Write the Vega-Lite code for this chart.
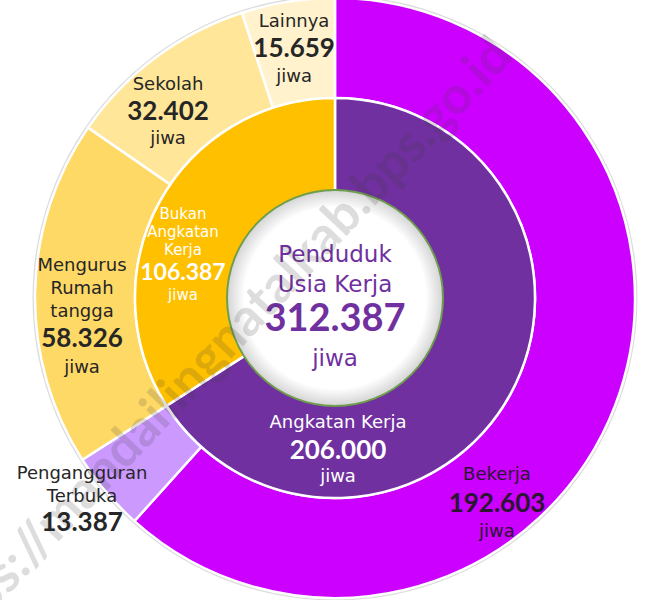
{
  "$schema": "https://vega.github.io/schema/vega-lite/v6.json",
  "width": 628,
  "height": 596,
  "autosize": {"type": "none"},
  "padding": {"left": 21, "top": 0, "right": 0, "bottom": 4},
  "background": "white",
  "config": {
    "view": {"stroke": null},
    "locale": {"number": {"decimal": ",", "thousands": ".", "grouping": [3], "currency": ["Rp", ""]}},
    "text": {"align": "center", "baseline": "middle", "lineBreak": "\n"}
  },
  "datasets": {
    "outer": [
      {"k": 1, "kategori": "Bekerja", "jiwa": 192603},
      {"k": 2, "kategori": "Pengangguran\nTerbuka", "jiwa": 13387},
      {"k": 3, "kategori": "Mengurus\nRumah\ntangga", "jiwa": 58326},
      {"k": 4, "kategori": "Sekolah", "jiwa": 32402},
      {"k": 5, "kategori": "Lainnya", "jiwa": 15659}
    ],
    "inner": [
      {"k": 1, "kategori": "Angkatan Kerja", "jiwa": 206000},
      {"k": 2, "kategori": "Bukan\nAngkatan\nKerja", "jiwa": 106387}
    ],
    "total": [
      {"k": 1, "kategori": "Penduduk\nUsia Kerja", "jiwa": 312387}
    ]
  },
  "layer": [
    {
      "data": {"name": "total"},
      "mark": {"type": "arc", "outerRadius": 302.5, "fill": "#dcdcdc"},
      "encoding": {"theta": {"field": "jiwa", "type": "quantitative", "stack": true}}
    },
    {
      "data": {"name": "outer"},
      "mark": {"type": "arc", "innerRadius": 200, "outerRadius": 300, "stroke": "white", "strokeWidth": 2.5},
      "encoding": {
        "theta": {"field": "jiwa", "type": "quantitative", "stack": true},
        "order": {"field": "k", "type": "quantitative"},
        "color": {
          "field": "kategori", "type": "nominal", "legend": null,
          "scale": {
            "domain": ["Bekerja", "Pengangguran\nTerbuka", "Mengurus\nRumah\ntangga", "Sekolah", "Lainnya", "Angkatan Kerja", "Bukan\nAngkatan\nKerja"],
            "range": ["#CC00FF", "#CC99FF", "#FFD966", "#FFE699", "#FFF2CC", "#7030A0", "#FFC000"]
          }
        }
      }
    },
    {
      "data": {"name": "inner"},
      "mark": {"type": "arc", "innerRadius": 100, "outerRadius": 200, "stroke": "white", "strokeWidth": 2.5},
      "encoding": {
        "theta": {"field": "jiwa", "type": "quantitative", "stack": true},
        "order": {"field": "k", "type": "quantitative"},
        "color": {"field": "kategori", "type": "nominal", "legend": null}
      }
    },
    {
      "data": {"name": "total"},
      "mark": {
        "type": "arc", "outerRadius": 108, "stroke": "#6e9e4c", "strokeWidth": 2,
        "fill": {"gradient": "radial", "x1": 0.5, "y1": 0.5, "x2": 0.5, "y2": 0.5, "r1": 0, "r2": 0.5,
          "stops": [{"offset": 0, "color": "#ffffff"}, {"offset": 0.84, "color": "#ffffff"}, {"offset": 1, "color": "#d4d4d4"}]}
      },
      "encoding": {"theta": {"field": "jiwa", "type": "quantitative", "stack": true}}
    },

    {"data": {"name": "outer"}, "mark": {"type": "text", "radius": 252, "dy": -27.5, "font": "DejaVu Sans", "fontSize": 18, "fill": "#262626"},
     "encoding": {"theta": {"field": "jiwa", "type": "quantitative", "stack": true, "bandPosition": 0.483}, "order": {"field": "k", "type": "quantitative"},
       "text": {"condition": {"test": "datum.k === 5", "field": "kategori", "type": "nominal"}, "value": ""}}},
    {"data": {"name": "outer"}, "mark": {"type": "text", "radius": 252, "dy": 0, "font": "Lato", "fontWeight": "bold", "fontSize": 26, "fill": "#262626"},
     "encoding": {"theta": {"field": "jiwa", "type": "quantitative", "stack": true, "bandPosition": 0.483}, "order": {"field": "k", "type": "quantitative"},
       "text": {"condition": {"test": "datum.k === 5", "field": "jiwa", "type": "quantitative", "format": ",d"}, "value": ""}}},
    {"data": {"name": "outer"}, "mark": {"type": "text", "radius": 252, "dy": 28, "font": "DejaVu Sans", "fontSize": 18, "fill": "#262626"},
     "encoding": {"theta": {"field": "jiwa", "type": "quantitative", "stack": true, "bandPosition": 0.483}, "order": {"field": "k", "type": "quantitative"},
       "text": {"condition": {"test": "datum.k === 5", "value": "jiwa"}, "value": ""}}},

    {"data": {"name": "outer"}, "mark": {"type": "text", "radius": 249.6, "dy": -27.5, "font": "DejaVu Sans", "fontSize": 18, "fill": "#262626"},
     "encoding": {"theta": {"field": "jiwa", "type": "quantitative", "stack": true, "bandPosition": 0.359}, "order": {"field": "k", "type": "quantitative"},
       "text": {"condition": {"test": "datum.k === 4", "field": "kategori", "type": "nominal"}, "value": ""}}},
    {"data": {"name": "outer"}, "mark": {"type": "text", "radius": 249.6, "dy": 0, "font": "Lato", "fontWeight": "bold", "fontSize": 26, "fill": "#262626"},
     "encoding": {"theta": {"field": "jiwa", "type": "quantitative", "stack": true, "bandPosition": 0.359}, "order": {"field": "k", "type": "quantitative"},
       "text": {"condition": {"test": "datum.k === 4", "field": "jiwa", "type": "quantitative", "format": ",d"}, "value": ""}}},
    {"data": {"name": "outer"}, "mark": {"type": "text", "radius": 249.6, "dy": 26.5, "font": "DejaVu Sans", "fontSize": 18, "fill": "#262626"},
     "encoding": {"theta": {"field": "jiwa", "type": "quantitative", "stack": true, "bandPosition": 0.359}, "order": {"field": "k", "type": "quantitative"},
       "text": {"condition": {"test": "datum.k === 4", "value": "jiwa"}, "value": ""}}},

    {"data": {"name": "outer"}, "mark": {"type": "text", "radius": 256.3, "dy": -73, "lineHeight": 23, "font": "DejaVu Sans", "fontSize": 18, "fill": "#262626"},
     "encoding": {"theta": {"field": "jiwa", "type": "quantitative", "stack": true, "bandPosition": 0.348}, "order": {"field": "k", "type": "quantitative"},
       "text": {"condition": {"test": "datum.k === 3", "field": "kategori", "type": "nominal"}, "value": ""}}},
    {"data": {"name": "outer"}, "mark": {"type": "text", "radius": 256.3, "dy": 0, "font": "Lato", "fontWeight": "bold", "fontSize": 26, "fill": "#262626"},
     "encoding": {"theta": {"field": "jiwa", "type": "quantitative", "stack": true, "bandPosition": 0.348}, "order": {"field": "k", "type": "quantitative"},
       "text": {"condition": {"test": "datum.k === 3", "field": "jiwa", "type": "quantitative", "format": ",d"}, "value": ""}}},
    {"data": {"name": "outer"}, "mark": {"type": "text", "radius": 256.3, "dy": 29, "font": "DejaVu Sans", "fontSize": 18, "fill": "#262626"},
     "encoding": {"theta": {"field": "jiwa", "type": "quantitative", "stack": true, "bandPosition": 0.348}, "order": {"field": "k", "type": "quantitative"},
       "text": {"condition": {"test": "datum.k === 3", "value": "jiwa"}, "value": ""}}},

    {"data": {"name": "outer"}, "mark": {"type": "text", "radius": 338.6, "dy": -49, "lineHeight": 23, "font": "DejaVu Sans", "fontSize": 18, "fill": "#262626"},
     "encoding": {"theta": {"field": "jiwa", "type": "quantitative", "stack": true, "bandPosition": 0.414}, "order": {"field": "k", "type": "quantitative"},
       "text": {"condition": {"test": "datum.k === 2", "field": "kategori", "type": "nominal"}, "value": ""}}},
    {"data": {"name": "outer"}, "mark": {"type": "text", "radius": 338.6, "dy": 0, "font": "Lato", "fontWeight": "bold", "fontSize": 26, "fill": "#262626"},
     "encoding": {"theta": {"field": "jiwa", "type": "quantitative", "stack": true, "bandPosition": 0.414}, "order": {"field": "k", "type": "quantitative"},
       "text": {"condition": {"test": "datum.k === 2", "field": "jiwa", "type": "quantitative", "format": ",d"}, "value": ""}}},

    {"data": {"name": "outer"}, "mark": {"type": "text", "radius": 262.1, "dy": -29, "font": "DejaVu Sans", "fontSize": 18, "fill": "#2a1630"},
     "encoding": {"theta": {"field": "jiwa", "type": "quantitative", "stack": true, "bandPosition": 0.639}, "order": {"field": "k", "type": "quantitative"},
       "text": {"condition": {"test": "datum.k === 1", "field": "kategori", "type": "nominal"}, "value": ""}}},
    {"data": {"name": "outer"}, "mark": {"type": "text", "radius": 262.1, "dy": 0, "font": "Lato", "fontWeight": "bold", "fontSize": 26, "fill": "#2a1630"},
     "encoding": {"theta": {"field": "jiwa", "type": "quantitative", "stack": true, "bandPosition": 0.639}, "order": {"field": "k", "type": "quantitative"},
       "text": {"condition": {"test": "datum.k === 1", "field": "jiwa", "type": "quantitative", "format": ",d"}, "value": ""}}},
    {"data": {"name": "outer"}, "mark": {"type": "text", "radius": 262.1, "dy": 28, "font": "DejaVu Sans", "fontSize": 18, "fill": "#2a1630"},
     "encoding": {"theta": {"field": "jiwa", "type": "quantitative", "stack": true, "bandPosition": 0.639}, "order": {"field": "k", "type": "quantitative"},
       "text": {"condition": {"test": "datum.k === 1", "value": "jiwa"}, "value": ""}}},

    {"data": {"name": "inner"}, "mark": {"type": "text", "radius": 153.5, "dy": -28, "font": "DejaVu Sans", "fontSize": 18, "fill": "white"},
     "encoding": {"theta": {"field": "jiwa", "type": "quantitative", "stack": true, "bandPosition": 0.7535}, "order": {"field": "k", "type": "quantitative"},
       "text": {"condition": {"test": "datum.k === 1", "field": "kategori", "type": "nominal"}, "value": ""}}},
    {"data": {"name": "inner"}, "mark": {"type": "text", "radius": 153.5, "dy": 0, "font": "Lato", "fontWeight": "bold", "fontSize": 26, "fill": "white"},
     "encoding": {"theta": {"field": "jiwa", "type": "quantitative", "stack": true, "bandPosition": 0.7535}, "order": {"field": "k", "type": "quantitative"},
       "text": {"condition": {"test": "datum.k === 1", "field": "jiwa", "type": "quantitative", "format": ",d"}, "value": ""}}},
    {"data": {"name": "inner"}, "mark": {"type": "text", "radius": 153.5, "dy": 26, "font": "DejaVu Sans", "fontSize": 18, "fill": "white"},
     "encoding": {"theta": {"field": "jiwa", "type": "quantitative", "stack": true, "bandPosition": 0.7535}, "order": {"field": "k", "type": "quantitative"},
       "text": {"condition": {"test": "datum.k === 1", "value": "jiwa"}, "value": ""}}},

    {"data": {"name": "inner"}, "mark": {"type": "text", "radius": 154, "dy": -59.5, "lineHeight": 18, "font": "DejaVu Sans", "fontSize": 15, "fill": "white"},
     "encoding": {"theta": {"field": "jiwa", "type": "quantitative", "stack": true, "bandPosition": 0.3406}, "order": {"field": "k", "type": "quantitative"},
       "text": {"condition": {"test": "datum.k === 2", "field": "kategori", "type": "nominal"}, "value": ""}}},
    {"data": {"name": "inner"}, "mark": {"type": "text", "radius": 154, "dy": 0, "font": "Lato", "fontWeight": "bold", "fontSize": 23, "fill": "white"},
     "encoding": {"theta": {"field": "jiwa", "type": "quantitative", "stack": true, "bandPosition": 0.3406}, "order": {"field": "k", "type": "quantitative"},
       "text": {"condition": {"test": "datum.k === 2", "field": "jiwa", "type": "quantitative", "format": ",d"}, "value": ""}}},
    {"data": {"name": "inner"}, "mark": {"type": "text", "radius": 154, "dy": 22, "font": "DejaVu Sans", "fontSize": 15, "fill": "white"},
     "encoding": {"theta": {"field": "jiwa", "type": "quantitative", "stack": true, "bandPosition": 0.3406}, "order": {"field": "k", "type": "quantitative"},
       "text": {"condition": {"test": "datum.k === 2", "value": "jiwa"}, "value": ""}}},

    {"data": {"name": "total"}, "mark": {"type": "text", "dy": -43.5, "lineHeight": 30, "font": "DejaVu Sans", "fontSize": 23, "fill": "#7030A0"},
     "encoding": {"text": {"field": "kategori", "type": "nominal"}}},
    {"data": {"name": "total"}, "mark": {"type": "text", "dy": 22, "font": "Lato", "fontWeight": "bold", "fontSize": 38, "fill": "#7030A0"},
     "encoding": {"text": {"field": "jiwa", "type": "quantitative", "format": ",d"}}},
    {"data": {"name": "total"}, "mark": {"type": "text", "dy": 61, "font": "DejaVu Sans", "fontSize": 23, "fill": "#7030A0", "text": "jiwa"},
     "encoding": {}},

    {"data": {"name": "total"}, "mark": {"type": "text", "text": "https://mandailingnatalkab.bps.go.id", "angle": -46.7, "align": "right", "dx": 298, "dy": -50, "font": "Lato", "fontWeight": "bold", "fontSize": 52, "fill": "#3c3c3c", "opacity": 0.17},
     "encoding": {}}
  ]
}
